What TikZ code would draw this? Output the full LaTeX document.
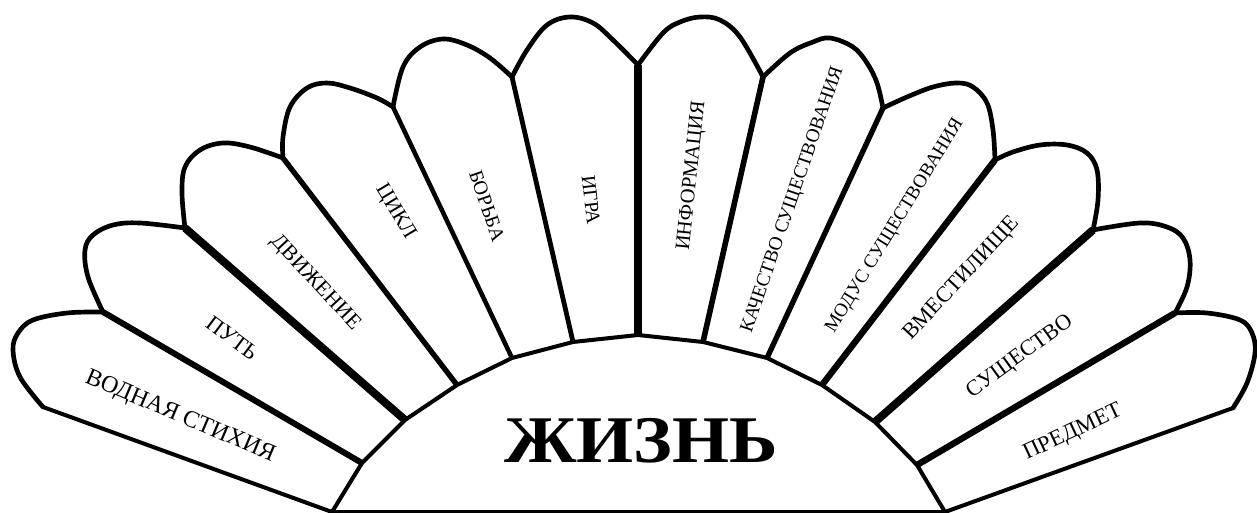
\documentclass[tikz,border=0pt]{standalone}
\usepackage{fontspec}
\setmainfont{Liberation Serif}
\begin{document}
\begin{tikzpicture}[x=0.75pt,y=-0.75pt,
  arch/.style={line width=3.5pt,line join=round,line cap=round},
  hubline/.style={line width=3pt,line join=round,fill=white},
  rib/.style={line width=#1,line cap=butt},
  lab/.style={font=\fontsize{#1}{#1}\selectfont,inner sep=0pt},
  title/.style={font=\fontsize{50}{56}\bfseries\selectfont,inner sep=0pt,xscale=1.1}]
\useasboundingbox (0,0) rectangle (1257,513);
% top junctions
\coordinate (t0) at (43,407);
\coordinate (t1) at (103,312);
\coordinate (t2) at (185,228);
\coordinate (t3) at (283,158);
\coordinate (t4) at (393,107);
\coordinate (t5) at (512,77);
\coordinate (t6) at (638,65);
\coordinate (t7) at (763,77);
\coordinate (t8) at (883,108);
\coordinate (t9) at (995,160);
\coordinate (t10) at (1093,230);
\coordinate (t11) at (1175,313);
\coordinate (t12) at (1233,408);
% hub vertices
\coordinate (h0) at (332,512);
\coordinate (h1) at (362,463);
\coordinate (h2) at (405,420);
\coordinate (h3) at (457,385);
\coordinate (h4) at (512,358);
\coordinate (h5) at (573,342);
\coordinate (h6) at (638,335);
\coordinate (h7) at (703,342);
\coordinate (h8) at (767,358);
\coordinate (h9) at (822,385);
\coordinate (h10) at (875,422);
\coordinate (h11) at (917,465);
\coordinate (h12) at (945,512);
% arches
\draw[arch] plot[smooth,tension=0.6] coordinates {(t0) (20,377) (13,350) (18,333) (33,320) (67,313) (t1)};
\draw[arch] plot[smooth,tension=0.6] coordinates {(t1) (88,277) (85,250) (93,235) (113,225) (140,223) (t2)};
\draw[arch] plot[smooth,tension=0.6] coordinates {(t2) (182,193) (185,167) (200,150) (223,143) (250,147) (t3)};
\draw[arch] plot[smooth,tension=0.6] coordinates {(t3) (283,137) (290,107) (307,88) (327,83) (350,88) (377,98) (t4)};
\draw[arch] plot[smooth,tension=0.6] coordinates {(t4) (403,67) (420,47) (443,39) (467,45) (490,58) (t5)};
\draw[arch] plot[smooth,tension=0.6] coordinates {(t5) (527,50) (547,25) (570,17) (593,23) (613,40) (t6)};
\draw[arch] plot[smooth,tension=0.6] coordinates {(t6) (663,33) (680,22) (700,17) (720,20) (740,37) (t7)};
\draw[arch] plot[smooth,tension=0.6] coordinates {(t7) (790,53) (813,42) (830,38) (853,47) (867,63) (877,83) (t8)};
\draw[arch] plot[smooth,tension=0.6] coordinates {(t8) (907,97) (933,87) (957,83) (973,87) (987,103) (993,130) (t9)};
\draw[arch] plot[smooth,tension=0.6] coordinates {(t9) (1013,152) (1040,145) (1067,145) (1087,153) (1097,170) (1098,200) (t10)};
\draw[arch] plot[smooth,tension=0.6] coordinates {(t10) (1140,223) (1167,227) (1183,238) (1190,260) (1187,287) (t11)};
\draw[arch] plot[smooth,tension=0.6] coordinates {(t11) (1207,313) (1240,320) (1252,333) (1255,353) (1247,383) (t12)};
% ribs
\draw[rib=3pt] (t0) -- (h0);
\draw[rib=4.5pt] (t1) -- (h1);
\draw[rib=6pt] (t2) -- (h2);
\draw[rib=4pt] (t3) -- (h3);
\draw[rib=3.4pt] (t4) -- (h4);
\draw[rib=3.6pt] (t5) -- (h5);
\draw[rib=5.3pt] (t6) -- (h6);
\draw[rib=4.2pt] (t7) -- (h7);
\draw[rib=4pt] (t8) -- (h8);
\draw[rib=4.8pt] (t9) -- (h9);
\draw[rib=6pt] (t10) -- (h10);
\draw[rib=4.8pt] (t11) -- (h11);
\draw[rib=3pt] (t12) -- (h12);
% hub
\draw[hubline] (h0) -- (h1) -- (h2) -- (h3) -- (h4) -- (h5) -- (h6) -- (h7) -- (h8) -- (h9) -- (h10) -- (h11) -- (h12) -- cycle;
% labels
\node[lab=18,rotate=-23] (p1) at (180,417) {ВОДНАЯ СТИХИЯ};
\node[lab=16.7,rotate=-37] (p2) at (232,338) {ПУТЬ};
\node[lab=16.2,rotate=-47] (p3) at (315,283) {ДВИЖЕНИЕ};
\node[lab=16,rotate=-59] (p4) at (395,212) {ЦИКЛ};
\node[lab=15,rotate=-71] (p5) at (487,206) {БОРЬБА};
\node[lab=15,rotate=-83.5] (p6) at (591,200) {ИГРА};
\node[lab=15.5,rotate=84] (p7) at (692,176) {ИНФОРМАЦИЯ};
\node[lab=14.5,rotate=71] (p8) at (793,200) {КАЧЕСТВО СУЩЕСТВОВАНИЯ};
\node[lab=14.3,rotate=58.5] (p9) at (895,226) {МОДУС СУЩЕСТВОВАНИЯ};
\node[lab=16.7,rotate=47] (p10) at (962,279) {ВМЕСТИЛИЩЕ};
\node[lab=16.7,rotate=36] (p11) at (1020,357) {СУЩЕСТВО};
\node[lab=17,rotate=25] (p12) at (1073,433) {ПРЕДМЕТ};
\node[title] (center) at (641,441) {ЖИЗНЬ};
\end{tikzpicture}
\end{document}
